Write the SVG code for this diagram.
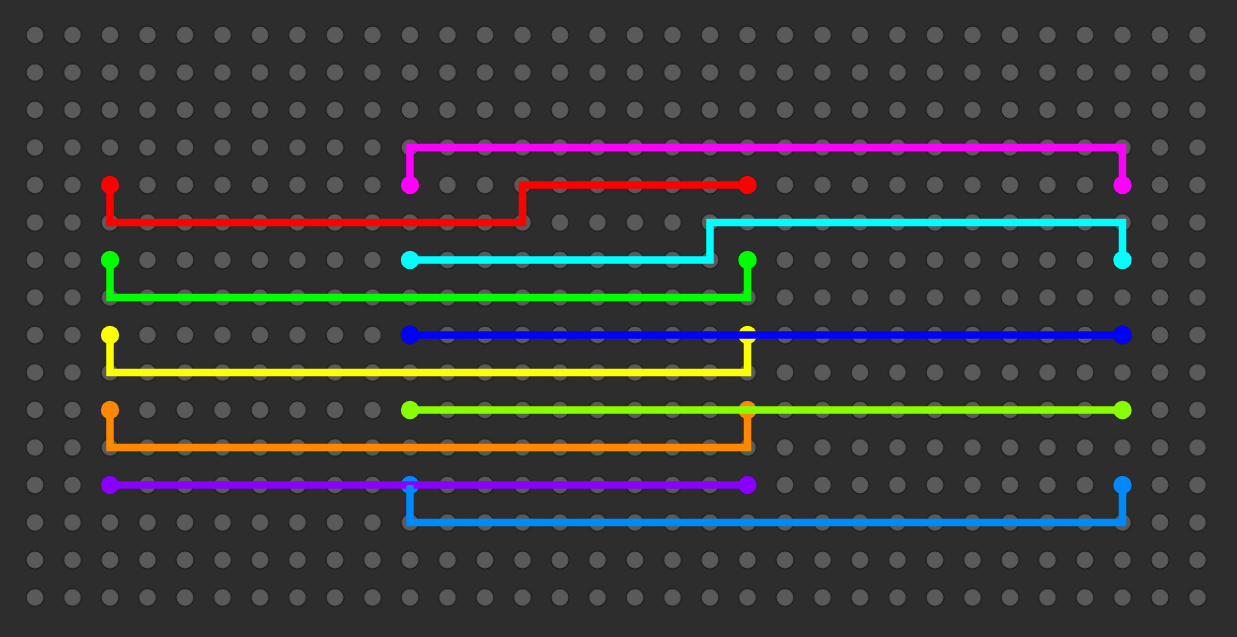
<svg xmlns="http://www.w3.org/2000/svg" width="1237" height="637" viewBox="0 0 1237 637">
  <style>
    .dot { fill: #5a5a5a; stroke: #1c1c1c; stroke-width: 1.2; }
    .flow { fill: none; stroke-width: 7.5; stroke-linejoin: miter; stroke-linecap: butt; }
    .end { stroke: none; }
  </style>
  <defs>
    <pattern id="grid" x="16.25" y="16.25" width="37.5" height="37.5" patternUnits="userSpaceOnUse">
      <circle class="dot" cx="18.75" cy="18.75" r="9"/>
    </pattern>
  </defs>
  <rect width="1237" height="637" fill="#2d2d2d"/>
  <rect id="board" x="16.25" y="16.25" width="1200" height="600" fill="url(#grid)"/>

  <g id="endpoints">
    <g id="magenta-ends" fill="#ff00ff"><circle class="end" cx="410" cy="185" r="9.2"/><circle class="end" cx="1122.5" cy="185" r="9.2"/></g>
    <g id="red-ends" fill="#ff0000"><circle class="end" cx="110" cy="185" r="9.2"/><circle class="end" cx="747.5" cy="185" r="9.2"/></g>
    <g id="cyan-ends" fill="#00ffff"><circle class="end" cx="410" cy="260" r="9.2"/><circle class="end" cx="1122.5" cy="260" r="9.2"/></g>
    <g id="green-ends" fill="#00ff00"><circle class="end" cx="110" cy="260" r="9.2"/><circle class="end" cx="747.5" cy="260" r="9.2"/></g>
    <g id="yellow-ends" fill="#ffff00"><circle class="end" cx="110" cy="335" r="9.2"/><circle class="end" cx="747.5" cy="335" r="9.2"/></g>
    <g id="blue-ends" fill="#0000ff"><circle class="end" cx="410" cy="335" r="9.2"/><circle class="end" cx="1122.5" cy="335" r="9.2"/></g>
    <g id="orange-ends" fill="#ff8800"><circle class="end" cx="110" cy="410" r="9.2"/><circle class="end" cx="747.5" cy="410" r="9.2"/></g>
    <g id="lime-ends" fill="#88ff00"><circle class="end" cx="410" cy="410" r="9.2"/><circle class="end" cx="1122.5" cy="410" r="9.2"/></g>
    <g id="purple-ends" fill="#8800ff"><circle class="end" cx="110" cy="485" r="9.2"/><circle class="end" cx="747.5" cy="485" r="9.2"/></g>
    <g id="skyblue-ends" fill="#0088ff"><circle class="end" cx="410" cy="485" r="9.2"/><circle class="end" cx="1122.5" cy="485" r="9.2"/></g>
  </g>

  <g id="connectors">
    <polyline class="flow" stroke="#ff00ff" points="410,185 410,147.5 1122.5,147.5 1122.5,185"/>
    <polyline class="flow" stroke="#ff0000" points="110,185 110,222.5 522.5,222.5 522.5,185 747.5,185"/>
    <polyline class="flow" stroke="#00ffff" points="410,260 710,260 710,222.5 1122.5,222.5 1122.5,260"/>
    <polyline class="flow" stroke="#00ff00" points="110,260 110,297.5 747.5,297.5 747.5,260"/>
    <polyline class="flow" stroke="#ffff00" points="110,335 110,372.5 747.5,372.5 747.5,335"/>
    <polyline class="flow" stroke="#0000ff" points="410,335 1122.5,335"/>
    <polyline class="flow" stroke="#ff8800" points="110,410 110,447.5 747.5,447.5 747.5,410"/>
    <polyline class="flow" stroke="#88ff00" points="410,410 1122.5,410"/>
    <polyline class="flow" stroke="#8800ff" points="110,485 747.5,485"/>
    <polyline class="flow" stroke="#0088ff" points="410,485 410,522.5 1122.5,522.5 1122.5,485"/>
  </g>
</svg>
